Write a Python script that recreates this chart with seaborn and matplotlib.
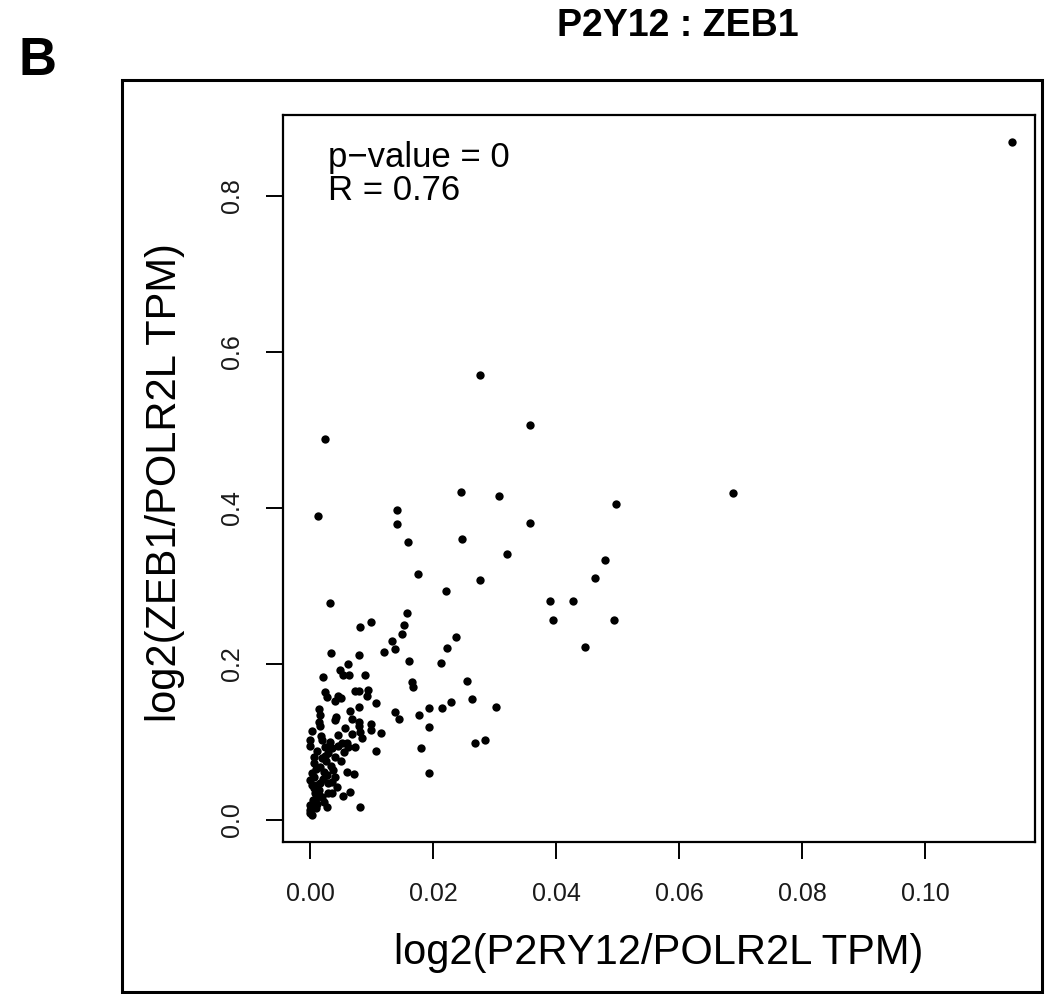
import matplotlib
matplotlib.use("Agg")
import matplotlib.pyplot as plt
import seaborn as sns
import pandas as pd
from matplotlib.patches import Rectangle

# Data
p2ry12 = [
    0.1141, 0.0688, 0.0497, 0.0480, 0.0463, 0.0427, 0.0390, 0.0395, 0.0495, 0.0447,
    0.0276, 0.0358, 0.0358, 0.0245, 0.0308, 0.0141, 0.0141, 0.0248, 0.0160, 0.0321,
    0.0175, 0.0276, 0.0221, 0.0157, 0.0237, 0.0223, 0.0213, 0.0256, 0.0263, 0.0302,
    0.0229, 0.0214, 0.0193, 0.0193, 0.0268, 0.0285, 0.0193, 0.0024, 0.00125, 0.0033,
    0.0082, 0.0099, 0.0153, 0.0149, 0.0133, 0.0139, 0.0120, 0.0034, 0.0079, 0.0161,
    0.0062, 0.0048, 0.0054, 0.0064, 0.0089, 0.0021, 0.0166, 0.0167, 0.0024, 0.0028,
    0.0073, 0.0080, 0.0094, 0.0092, 0.0046, 0.0041, 0.0050, 0.0107, 0.0014, 0.0065,
    0.0079, 0.0138, 0.0145, 0.0177, 0.0016, 0.0043, 0.0040, 0.0069, 0.0080, 0.0080,
    0.0100, 0.0099, 0.0115, 0.0015, 0.0016, 0.0057, 0.0004, 0.0046, 0.0084, 0.0081,
    0.0000, 0.0000, 0.0020, 0.0024, 0.0035, 0.0046, 0.0052, 0.0060, 0.0062, 0.0073,
    0.0030, 0.0041, 0.0108, 0.0180, 0.0006, 0.0006, 0.0004, 0.0007, 0.0019, 0.0016,
    0.0022, 0.0034, 0.0060, 0.0072, 0.0027, 0.0041, 0.0030, 0.0035, 0.0000, 0.0006,
    0.0011, 0.0016, 0.0008, 0.0014, 0.0019, 0.0035, 0.0029, 0.0053, 0.0065, 0.0005,
    0.0000, 0.0008, 0.0022, 0.0027, 0.0000, 0.0003, 0.0000, 0.0081, 0.0012, 0.0025,
    0.0010, 0.0050, 0.0014, 0.0009, 0.0044, 0.0018, 0.0032, 0.0010, 0.0055, 0.0003,
    0.0021, 0.0038, 0.0012, 0.0068, 0.0026,
]
zeb1 = [
    0.869, 0.419, 0.405, 0.333, 0.310, 0.281, 0.281, 0.256, 0.257, 0.222,
    0.570, 0.506, 0.381, 0.420, 0.415, 0.397, 0.380, 0.360, 0.356, 0.341,
    0.316, 0.308, 0.294, 0.265, 0.234, 0.221, 0.201, 0.178, 0.155, 0.145,
    0.151, 0.143, 0.144, 0.119, 0.099, 0.103, 0.060, 0.489, 0.390, 0.278,
    0.248, 0.254, 0.250, 0.238, 0.230, 0.219, 0.216, 0.2145, 0.212, 0.204,
    0.200, 0.192, 0.186, 0.186, 0.1855, 0.183, 0.177, 0.171, 0.1645, 0.158,
    0.166, 0.166, 0.167, 0.159, 0.159, 0.153, 0.157, 0.150, 0.142, 0.140,
    0.1445, 0.139, 0.129, 0.135, 0.135, 0.132, 0.128, 0.129, 0.126, 0.120,
    0.123, 0.115, 0.111, 0.126, 0.120, 0.118, 0.114, 0.109, 0.105, 0.113,
    0.102, 0.095, 0.103, 0.094, 0.092, 0.095, 0.099, 0.099, 0.094, 0.093,
    0.086, 0.081, 0.088, 0.092, 0.081, 0.0725, 0.060, 0.055, 0.079, 0.068,
    0.062, 0.069, 0.062, 0.059, 0.058, 0.0555, 0.047, 0.049, 0.051, 0.041,
    0.045, 0.047, 0.034, 0.032, 0.030, 0.035, 0.034, 0.031, 0.036, 0.026,
    0.019, 0.021, 0.0235, 0.017, 0.013, 0.0065, 0.009, 0.017, 0.088, 0.082,
    0.066, 0.075, 0.038, 0.015, 0.042, 0.108, 0.100, 0.028, 0.087, 0.045,
    0.052, 0.064, 0.020, 0.110, 0.076,
]
x_ticks = [0.00, 0.02, 0.04, 0.06, 0.08, 0.10]
x_tick_labels = ["0.00", "0.02", "0.04", "0.06", "0.08", "0.10"]
y_ticks = [0.0, 0.2, 0.4, 0.6, 0.8]
y_tick_labels = ["0.0", "0.2", "0.4", "0.6", "0.8"]
title_text = "P2Y12 : ZEB1"
panel_letter = "B"
x_label = "log2(P2RY12/POLR2L TPM)"
y_label = "log2(ZEB1/POLR2L TPM)"
stat_lines = ["p\u2212value = 0", "R = 0.76"]

df = pd.DataFrame({"x": p2ry12, "y": zeb1})

sns.set_theme(style="ticks")
plt.rcParams["font.family"] = ["Liberation Sans", "DejaVu Sans"]
plt.rcParams["text.color"] = "black"
plt.rcParams["axes.labelcolor"] = "black"

W, H = 1055, 994
fig = plt.figure(figsize=(W / 100, H / 100), dpi=100)
fig.patch.set_facecolor("white")

# outer panel box
fig.patches.append(Rectangle((122 / W, 1 - 992 / H), (1042 - 122) / W, (992 - 80) / H,
                             transform=fig.transFigure, fill=False, lw=2.2,
                             edgecolor="black"))

ax = fig.add_axes([283 / W, 1 - 842 / H, (1035 - 283) / W, (842 - 115) / H])
sns.scatterplot(data=df, x="x", y="y", ax=ax, color="black", s=36, linewidth=0,
                legend=False)

ax.set_xlim(-0.00439, 0.1179)
ax.set_ylim(-0.0282, 0.9038)
ax.set_xticks(x_ticks)
ax.set_xticklabels(x_tick_labels, fontsize=18, color="#1a1a1a")
ax.set_yticks(y_ticks)
ax.set_yticklabels(y_tick_labels, fontsize=18, rotation=90, va="center",
                   color="#1a1a1a")
ax.tick_params(axis="both", direction="out", length=12, width=1.4, color="black")
ax.tick_params(axis="x", pad=17)
ax.tick_params(axis="y", pad=16)
for sp in ax.spines.values():
    sp.set_visible(True)
    sp.set_linewidth(1.6)
    sp.set_color("black")

ax.set_xlabel(x_label, fontsize=30, va="center", color="black")
ax.xaxis.set_label_coords(0.5, -0.1527)
ax.set_ylabel(y_label, fontsize=30, va="center", color="black")
ax.yaxis.set_label_coords(-0.1569, 0.4945)

ax.text(0.0598, 0.9422, stat_lines[0], transform=ax.transAxes, fontsize=25,
        ha="left", va="center", color="black")
ax.text(0.0598, 0.8968, stat_lines[1], transform=ax.transAxes, fontsize=25,
        ha="left", va="center", color="black")

fig.text(678 / W, 1 - 26 / H, title_text, fontsize=27, fontweight="bold",
         ha="center", va="center", color="black")
fig.text(38 / W, 1 - 61 / H, panel_letter, fontsize=38, fontweight="bold",
         ha="center", va="center", color="black")

fig.savefig("out.png", dpi=100, facecolor="white")
